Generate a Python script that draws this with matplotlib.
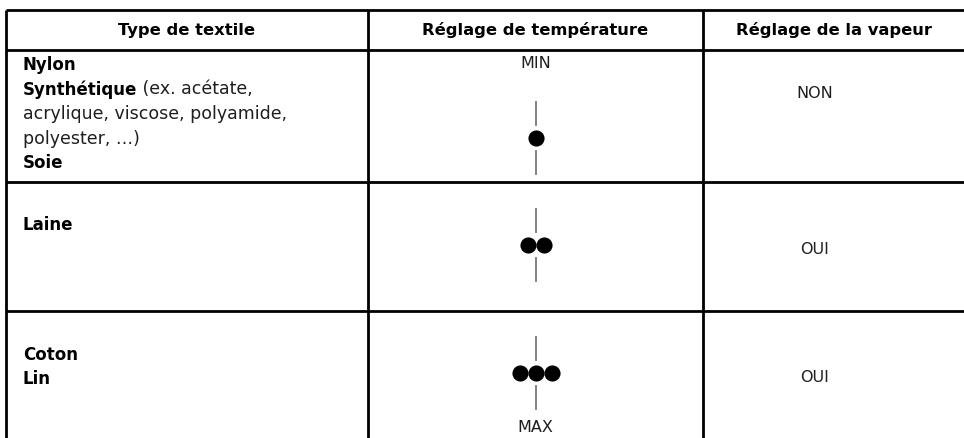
import matplotlib
matplotlib.use("Agg")
import matplotlib.pyplot as plt

# Data
headers = ["Type de textile", "Réglage de température", "Réglage de la vapeur"]
textile_lines = [
    ("Nylon", ""),
    ("Synthétique", " (ex. acétate,"),
    ("", "acrylique, viscose, polyamide,"),
    ("", "polyester, …)"),
    ("Soie", ""),
]
laine_lines = ["Laine"]
coton_lines = ["Coton", "Lin"]
temp_levels = [1, 2, 3]
vapeur = ["NON", "OUI", "OUI"]

plt.rcParams['font.family'] = ['DejaVu Sans']

fig = plt.figure(figsize=(9.64, 4.38), dpi=100)
ax = fig.add_axes([0, 0, 1, 1])
ax.set_xlim(0, 964)
ax.set_ylim(438, 0)
ax.axis('off')

# table grid
x_left, x_c1, x_c2, x_right = 6, 368, 703, 964
y_top, y_h, y_r1, y_r2, y_bot = 10, 50, 182, 311, 438
lw = 2.0
for y in [y_top, y_h, y_r1, y_r2]:
    ax.plot([x_left, x_right], [y, y], color='black', lw=lw, solid_capstyle='butt')
for x in [x_left, x_c1, x_c2]:
    ax.plot([x, x], [y_top, y_bot], color='black', lw=lw, solid_capstyle='butt')

fs_head = 11.8
fs_bold = 12
fs_body = 12.5
fs_caps = 11.5
txt_col = '#1e1e1e'

col_centers = [(x_left + x_c1) / 2, (x_c1 + x_c2) / 2, (x_c2 + x_right) / 2]
for cx, h in zip(col_centers, headers):
    ax.text(cx, 30, h, ha='center', va='center', fontsize=fs_head, fontweight='bold', color='black')

# first column
fig.canvas.draw()
renderer = fig.canvas.get_renderer()
tx = 23
y0, dy = 65, 24.5
for i, (bold, normal) in enumerate(textile_lines):
    y = y0 + i * dy
    x = tx
    if bold:
        t = ax.text(x, y, bold, ha='left', va='center', fontsize=fs_bold, fontweight='bold', color='black')
        bb = t.get_window_extent(renderer)
        x = ax.transData.inverted().transform((bb.x1, 0))[0]
    if normal:
        ax.text(x, y, normal, ha='left', va='center', fontsize=fs_body, color=txt_col)

for i, s in enumerate(laine_lines):
    ax.text(tx, 225 + i * dy, s, ha='left', va='center', fontsize=fs_bold, fontweight='bold')
for i, s in enumerate(coton_lines):
    ax.text(tx, 355 + i * dy, s, ha='left', va='center', fontsize=fs_bold, fontweight='bold')

# temperature column
cx = col_centers[1]
dot_y = [138, 245, 373]
gap = 16
for lvl, yd in zip(temp_levels, dot_y):
    xs = [cx + (k - (lvl - 1) / 2) * gap for k in range(lvl)]
    ax.scatter(xs, [yd] * lvl, s=135, color='black', zorder=3, linewidths=0)
    ax.plot([cx, cx], [yd - 36, yd - 13], color='#777777', lw=1.3)
    ax.plot([cx, cx], [yd + 13, yd + 36], color='#777777', lw=1.3)
ax.text(cx, 63, "MIN", ha='center', va='center', fontsize=fs_caps, color=txt_col)
ax.text(cx, 427, "MAX", ha='center', va='center', fontsize=fs_caps, color=txt_col)

# vapeur column
for v, y in zip(vapeur, [94, 250, 378]):
    ax.text(815, y, v, ha='center', va='center', fontsize=fs_caps, color=txt_col)

fig.savefig("out.png", dpi=100)
